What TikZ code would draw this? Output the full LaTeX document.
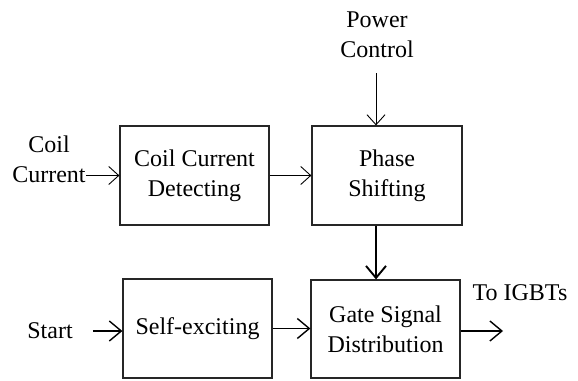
\documentclass[tikz,border=0pt]{standalone}
\usepackage{fontspec}
\setmainfont{Liberation Serif}
\usetikzlibrary{arrows.meta}
\begin{document}
\begin{tikzpicture}[x=1pt,y=-1pt,
  font=\fontsize{24}{30}\selectfont,
  blk/.style={draw=black!85, line width=1.2pt, align=center, inner sep=0pt},
  lbl/.style={align=center, inner sep=0pt},
  thinarr/.style={-{Straight Barb[length=10pt,width=18pt]}, line width=0.9pt},
  thickarr/.style={-{Straight Barb[length=12pt,width=20pt]}, line width=1.4pt},
  heavyarr/.style={-{Straight Barb[length=12pt,width=20pt]}, line width=1.9pt}]
\useasboundingbox (0,0) rectangle (578,380);
% blocks
\node[blk, minimum width=149pt, minimum height=99pt] (det) at (194.5,175.5) {Coil Current\\Detecting};
\node[blk, minimum width=150pt, minimum height=99pt] (ph) at (387,175.5) {Phase\\Shifting};
\node[blk, minimum width=149pt, minimum height=99pt] (self) at (197.5,328.5) {Self-exciting};
\node[blk, minimum width=149pt, minimum height=98pt] (gsd) at (385.5,329) {Gate Signal\\Distribution};
% labels
\node[lbl] (coil) at (49,159.5) {Coil\\Current};
\node[lbl] (pc) at (377,35) {Power\\Control};
\node[lbl] (start) at (50,331) {Start};
\node[lbl] (igbt) at (520,292.5) {To IGBTs};
\coordinate (pcend) at (376,73);
\coordinate (out) at (503,331);
% connectors
\draw[thinarr] (coil.east |- det.west) -- (det.west);
\draw[thinarr] (det.east) -- (ph.west);
\draw[thinarr] (pcend) -- (pcend |- ph.north);
\draw[heavyarr] (pcend |- ph.south) -- (pcend |- gsd.north);
\draw[thickarr] ([xshift=20pt]start.east) -- (start.east -| self.west);
\draw[thickarr] (self.east) -- (self.east -| gsd.west);
\draw[thickarr] (gsd.east |- out) -- (out);
\end{tikzpicture}
\end{document}
